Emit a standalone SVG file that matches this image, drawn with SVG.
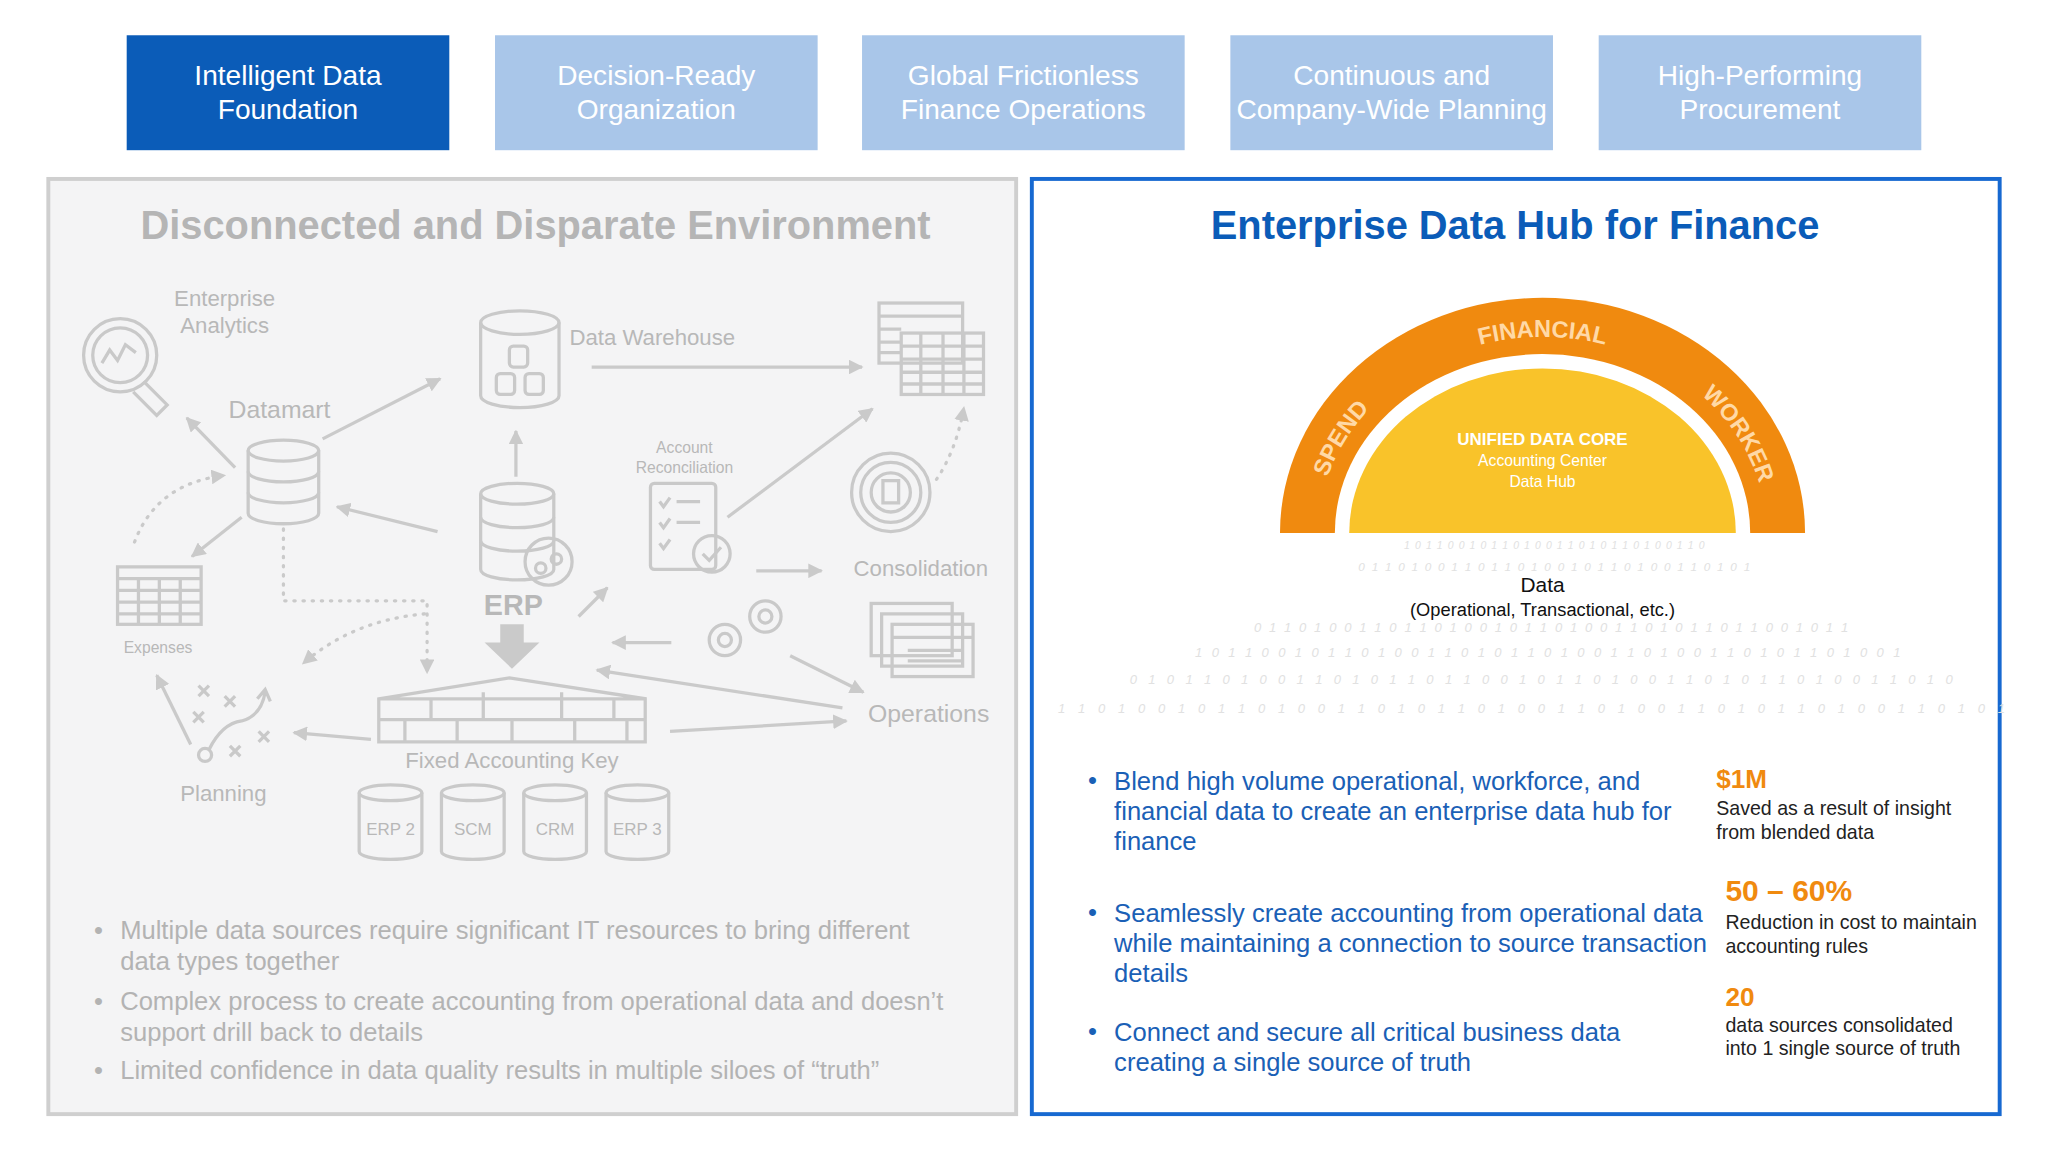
<svg xmlns="http://www.w3.org/2000/svg" width="2048" height="1152" viewBox="0 0 2048 1152">
<defs>
<style>
.t{font-family:"Liberation Sans",Arial,sans-serif}
.tab{fill:#a9c6e9}
.tabt{font-family:"Liberation Sans",Arial,sans-serif;font-size:21.5px;fill:#fff;text-anchor:middle}
.g{fill:none;stroke:#c9c9c9;stroke-width:2.5}
.lab{font-family:"Liberation Sans",Arial,sans-serif;fill:#b8b8b8}
.ar{fill:none;stroke:#cacaca;stroke-width:2.5;marker-end:url(#ah)}
.dt{fill:none;stroke:#cacaca;stroke-width:2.5;stroke-dasharray:1 6;stroke-linecap:round;marker-end:url(#ah)}
.bl{font-family:"Liberation Sans",Arial,sans-serif;font-size:19.6px;fill:#1a60b6}
.gb{font-family:"Liberation Sans",Arial,sans-serif;font-size:19.6px;fill:#b3b3b3}
.st{font-family:"Liberation Sans",Arial,sans-serif;font-size:15px;fill:#222}
.sn{font-family:"Liberation Sans",Arial,sans-serif;font-weight:bold;fill:#f08a0f}
.bin{font-family:"Liberation Sans",Arial,sans-serif;fill:#e1e1e1;font-style:italic}
.arc{font-family:"Liberation Sans",Arial,sans-serif;font-size:18px;font-weight:bold;fill:#ffd9a6}
</style>
<marker id="ah" viewBox="0 0 10 10" refX="9" refY="5" markerWidth="4.5" markerHeight="4.5" orient="auto"><path d="M0,0 L10,5 L0,10 z" fill="#cacaca"/></marker>
<path id="arcp" d="M 1009,410 A 172 152 0 0 1 1353,410"/>
</defs>
<rect width="2048" height="1152" fill="#fff"/>
<g transform="scale(1.30612)">
<g id="tabs">
<g id="tab1"><rect x="97" y="27" width="247" height="88" fill="#0b5cb8"/><text class="tabt" x="220.5" y="65">Intelligent Data</text><text class="tabt" x="220.5" y="91">Foundation</text></g>
<g id="tab2"><rect class="tab" x="379" y="27" width="247" height="88"/><text class="tabt" x="502.5" y="65">Decision-Ready</text><text class="tabt" x="502.5" y="91">Organization</text></g>
<g id="tab3"><rect class="tab" x="660" y="27" width="247" height="88"/><text class="tabt" x="783.5" y="65">Global Frictionless</text><text class="tabt" x="783.5" y="91">Finance Operations</text></g>
<g id="tab4"><rect class="tab" x="942" y="27" width="247" height="88"/><text class="tabt" x="1065.5" y="65">Continuous and</text><text class="tabt" x="1065.5" y="91">Company-Wide Planning</text></g>
<g id="tab5"><rect class="tab" x="1224" y="27" width="247" height="88"/><text class="tabt" x="1347.5" y="65">High-Performing</text><text class="tabt" x="1347.5" y="91">Procurement</text></g>
</g>

<g id="left-panel">
<rect x="37" y="137" width="741" height="716" fill="#f4f4f5" stroke="#cfcfcf" stroke-width="3"/>
<text class="t" x="410" y="183" text-anchor="middle" font-size="30.5" font-weight="bold" fill="#b5b5b5">Disconnected and Disparate Environment</text>
</g>

<g id="connectors">
<path class="ar" d="M180,358 L143,320"/>
<path class="ar" d="M247,336 L337,290"/>
<path class="ar" d="M453,281 L660,281"/>
<path class="ar" d="M395,365 L395,330"/>
<path class="ar" d="M335,407 L258,388"/>
<path class="ar" d="M185,396 L147,426"/>
<path class="dt" d="M103,415 Q120,370 172,364"/>
<path class="dt" d="M217,405 L217,460 L327,460 L327,515"/>
<path class="dt" d="M325,470 Q270,475 232,508"/>
<path class="ar" d="M557,396 L668,313"/>
<path class="dt" d="M717,367 Q732,345 738,312"/>
<path class="ar" d="M579,437 L629,437"/>
<path class="ar" d="M443,472 L465,450"/>
<path class="ar" d="M514,492 L469,492"/>
<path class="ar" d="M605,502 L661,530"/>
<path class="ar" d="M645,542 L457,513"/>
<path class="ar" d="M513,560 L648,552"/>
<path class="ar" d="M284,566 L225,561"/>
<path class="ar" d="M146,570 L120,517"/>
<path d="M383,478 h18 v14 h12 l-21,20 l-21,-20 h12 z" fill="#cacaca"/>
</g>

<g id="enterprise-analytics">
<circle class="g" cx="92" cy="272" r="28"/><circle class="g" cx="92" cy="272" r="21"/>
<path class="g" d="M78,278 l6,-10 l6,8 l6,-12 l8,6"/>
<path class="g" d="M110,292 l18,18 l-8,8 l-18,-18"/>
<text class="lab" x="172" y="234" font-size="17" text-anchor="middle">Enterprise</text><text class="lab" x="172" y="255" font-size="17" text-anchor="middle">Analytics</text>
</g>
<g id="datamart">
<text class="lab" x="214" y="320" font-size="19" text-anchor="middle">Datamart</text>
<path class="g" d="M190,345 v48 a27,8 0 0 0 54,0 v-48"/><ellipse class="g" cx="217" cy="345" rx="27" ry="8"/>
<path class="g" d="M190,361 a27,8 0 0 0 54,0 M190,377 a27,8 0 0 0 54,0"/>
</g>
<g id="data-warehouse">
<path class="g" d="M368,247 v56 a30,9 0 0 0 60,0 v-56"/><ellipse class="g" cx="398" cy="247" rx="30" ry="9"/>
<rect class="g" x="390" y="265" width="14" height="16" rx="3"/><rect class="g" x="380" y="286" width="14" height="16" rx="3"/><rect class="g" x="402" y="286" width="14" height="16" rx="3"/>
<text class="lab" x="436" y="264" font-size="17">Data Warehouse</text>
</g>
<g id="reports">
<rect class="g" x="673" y="232" width="64" height="46"/><rect class="g" x="690" y="255" width="63" height="47" fill="#f4f4f5"/>
<path class="g" d="M673,242 h64 M673,252 h17 M673,262 h17 M673,270 h17 M690,265 h63 M690,275 h63 M690,285 h63 M690,294 h63 M705,255 v47 M722,255 v47 M738,255 v47"/>
</g>
<g id="account-reconciliation">
<text class="lab" x="524" y="347" font-size="12" text-anchor="middle">Account</text><text class="lab" x="524" y="362" font-size="12" text-anchor="middle">Reconciliation</text>
<rect class="g" x="498" y="370" width="50" height="66" rx="3"/>
<path class="g" d="M505,384 l3,4 l5,-7 M518,384 h18 M505,400 l3,4 l5,-7 M518,400 h18 M505,416 l3,4 l5,-7"/>
<circle class="g" cx="545" cy="424" r="14" fill="#f4f4f5"/><path class="g" d="M538,424 l5,5 l9,-10"/>
</g>
<g id="erp">
<path class="g" d="M368,378 v58 a28,8 0 0 0 56,0 v-58"/><ellipse class="g" cx="396" cy="378" rx="28" ry="8"/>
<path class="g" d="M368,396 a28,8 0 0 0 56,0 M368,414 a28,8 0 0 0 56,0"/>
<circle class="g" cx="420" cy="430" r="18" fill="#f4f4f5"/><circle class="g" cx="414" cy="435" r="4" stroke-width="1.5"/><circle class="g" cx="426" cy="428" r="4" stroke-width="1.5"/>
<text class="lab" x="393" y="471" font-size="22" font-weight="bold" text-anchor="middle">ERP</text>
</g>
<g id="consolidation">
<circle class="g" cx="682" cy="377" r="30"/><circle class="g" cx="682" cy="377" r="23"/><circle class="g" cx="682" cy="377" r="15"/>
<rect class="g" x="676" y="368" width="12" height="17"/>
<text class="lab" x="705" y="441" font-size="17" text-anchor="middle">Consolidation</text>
</g>
<g id="gears">
<circle class="g" cx="555" cy="490" r="12"/><circle class="g" cx="555" cy="490" r="5"/>
<circle class="g" cx="586" cy="472" r="12"/><circle class="g" cx="586" cy="472" r="5"/>
</g>
<g id="operations">
<rect class="g" x="667" y="462" width="62" height="40"/><rect class="g" x="675" y="470" width="62" height="40" fill="#f4f4f5"/><rect class="g" x="683" y="478" width="62" height="40" fill="#f4f4f5"/>
<path class="g" d="M683,488 h62 M695,498 h42 M695,506 h42"/>
<text class="lab" x="711" y="553" font-size="19" text-anchor="middle">Operations</text>
</g>
<g id="expenses">
<rect class="g" x="90" y="434" width="64" height="44"/>
<path class="g" d="M90,443 h64 M90,452 h64 M90,461 h64 M90,470 h64 M106,443 v35 M122,443 v35 M138,443 v35"/>
<text class="lab" x="121" y="500" font-size="12" text-anchor="middle">Expenses</text>
</g>
<g id="planning">
<path class="g" d="M152,525 l8,8 m0,-8 l-8,8 M172,533 l8,8 m0,-8 l-8,8 M148,545 l8,8 m0,-8 l-8,8 M198,560 l8,8 m0,-8 l-8,8 M176,571 l8,8 m0,-8 l-8,8"/>
<circle class="g" cx="157" cy="578" r="5"/><path class="g" d="M160,574 q10,-20 25,-22 q15,-4 18,-22 M197,535 l6,-7 l4,9"/>
<text class="lab" x="171" y="613" font-size="17" text-anchor="middle">Planning</text>
</g>
<g id="fixed-accounting-key">
<path class="g" d="M290,535 l100,-16 l104,16 v33 h-204 z M290,551 h204 M290,535 h204 M330,535 v16 M370,530 v21 M430,530 v21 M470,535 v16 M310,551 v17 M350,551 v17 M392,551 v17 M440,551 v17 M480,551 v17"/>
<text class="lab" x="392" y="588" font-size="17" text-anchor="middle">Fixed Accounting Key</text>
</g>
<g id="sources">
<g><path class="g" d="M275,607 v45 a24,6 0 0 0 48,0 v-45"/><ellipse class="g" cx="299" cy="607" rx="24" ry="6"/><text class="lab" x="299" y="639" font-size="13" text-anchor="middle">ERP 2</text></g>
<g><path class="g" d="M338,607 v45 a24,6 0 0 0 48,0 v-45"/><ellipse class="g" cx="362" cy="607" rx="24" ry="6"/><text class="lab" x="362" y="639" font-size="13" text-anchor="middle">SCM</text></g>
<g><path class="g" d="M401,607 v45 a24,6 0 0 0 48,0 v-45"/><ellipse class="g" cx="425" cy="607" rx="24" ry="6"/><text class="lab" x="425" y="639" font-size="13" text-anchor="middle">CRM</text></g>
<g><path class="g" d="M464,607 v45 a24,6 0 0 0 48,0 v-45"/><ellipse class="g" cx="488" cy="607" rx="24" ry="6"/><text class="lab" x="488" y="639" font-size="13" text-anchor="middle">ERP 3</text></g>
</g>
<g id="left-bullets">
<text class="gb" x="72" y="719">•</text><text class="gb" x="92" y="719">Multiple data sources require significant IT resources to bring different</text><text class="gb" x="92" y="743">data types together</text>
<text class="gb" x="72" y="773">•</text><text class="gb" x="92" y="773">Complex process to create accounting from operational data and doesn’t</text><text class="gb" x="92" y="797">support drill back to details</text>
<text class="gb" x="72" y="826">•</text><text class="gb" x="92" y="826">Limited confidence in data quality results in multiple siloes of “truth”</text>
</g>

<g id="right-panel">
<rect x="790" y="137" width="741" height="716" fill="#fff" stroke="#1769d1" stroke-width="3"/>
<text class="t" x="1160" y="183" text-anchor="middle" font-size="30.5" font-weight="bold" fill="#0b5cb8">Enterprise Data Hub for Finance</text>
</g>
<g id="binary">
<text class="bin" x="1075" y="420" font-size="8" textLength="230" lengthAdjust="spacing">1 0 1 1 0 0 1 0 1 1 0 1 0 0 1 1 0 1 0 1 1 0 1 0 0 1 1 0</text>
<text class="bin" x="1040" y="437" font-size="9" textLength="300" lengthAdjust="spacing">0 1 1 0 1 0 0 1 1 0 1 1 0 1 0 0 1 0 1 1 0 1 0 0 1 1 0 1 0 1</text>
<text class="bin" x="960" y="484" font-size="10" textLength="455" lengthAdjust="spacing">0 1 1 0 1 0 0 1 1 0 1 1 0 1 0 0 1 0 1 1 0 1 0 0 1 1 0 1 0 1 1 0 1 1 0 0 1 0 1 1</text>
<text class="bin" x="915" y="503" font-size="10" textLength="540" lengthAdjust="spacing">1 0 1 1 0 0 1 0 1 1 0 1 0 0 1 1 0 1 0 1 1 0 1 0 0 1 1 0 1 0 0 1 1 0 1 0 1 1 0 1 0 0 1</text>
<text class="bin" x="865" y="524" font-size="10" textLength="630" lengthAdjust="spacing">0 1 0 1 1 0 1 0 0 1 1 0 1 0 1 1 0 1 1 0 0 1 0 1 1 0 1 0 0 1 1 0 1 0 1 1 0 1 0 0 1 1 0 1 0</text>
<text class="bin" x="810" y="546" font-size="10" textLength="725" lengthAdjust="spacing">1 1 0 1 0 0 1 0 1 1 0 1 0 0 1 1 0 1 0 1 1 0 1 0 0 1 1 0 1 0 0 1 1 0 1 0 1 1 0 1 0 0 1 1 0 1 0 1</text>
</g>
<g id="data-core">
<path d="M980,408 A201,180 0 0 1 1382,408 Z" fill="#f08a0f"/>
<path d="M1022,408 A159,137 0 0 1 1340,408 Z" fill="#fff"/>
<path d="M1033,408 A148,126 0 0 1 1329,408 Z" fill="#f9c32a"/>
<text class="arc"><textPath href="#arcp" startOffset="50%" text-anchor="middle">FINANCIAL</textPath></text>
<text class="arc"><textPath href="#arcp" startOffset="15%" text-anchor="middle">SPEND</textPath></text>
<text class="arc"><textPath href="#arcp" startOffset="84%" text-anchor="middle">WORKER</textPath></text>
<text class="t" x="1181" y="341" text-anchor="middle" font-size="13" font-weight="bold" fill="#fff">UNIFIED DATA CORE</text>
<text class="t" x="1181" y="357" text-anchor="middle" font-size="12" fill="#fff">Accounting Center</text>
<text class="t" x="1181" y="373" text-anchor="middle" font-size="12" fill="#fff">Data Hub</text>
</g>
<g id="data-label">
<text class="t" x="1181" y="453" text-anchor="middle" font-size="16" fill="#111">Data</text>
<text class="t" x="1181" y="472" text-anchor="middle" font-size="14" fill="#111">(Operational, Transactional, etc.)</text>
</g>
<g id="right-bullets">
<text class="bl" x="833" y="604" font-size="16" fill="#333">•</text><text class="bl" x="853" y="605">Blend high volume operational, workforce, and</text><text class="bl" x="853" y="628">financial data to create an enterprise data hub for</text><text class="bl" x="853" y="651">finance</text>
<text class="bl" x="833" y="705" font-size="16" fill="#333">•</text><text class="bl" x="853" y="706">Seamlessly create accounting from operational data</text><text class="bl" x="853" y="729">while maintaining a connection to source transaction</text><text class="bl" x="853" y="752">details</text>
<text class="bl" x="833" y="796" font-size="16" fill="#333">•</text><text class="bl" x="853" y="797">Connect and secure all critical business data</text><text class="bl" x="853" y="820">creating a single source of truth</text>
</g>
<g id="stats">
<text class="sn" x="1314" y="603" font-size="20">$1M</text><text class="st" x="1314" y="624">Saved as a result of insight</text><text class="st" x="1314" y="642">from blended data</text>
<text class="sn" x="1321" y="690" font-size="23">50 – 60%</text><text class="st" x="1321" y="711">Reduction in cost to maintain</text><text class="st" x="1321" y="730">accounting rules</text>
<text class="sn" x="1321" y="770" font-size="20">20</text><text class="st" x="1321" y="790">data sources consolidated</text><text class="st" x="1321" y="808">into 1 single source of truth</text>
</g>
</g>
</svg>
